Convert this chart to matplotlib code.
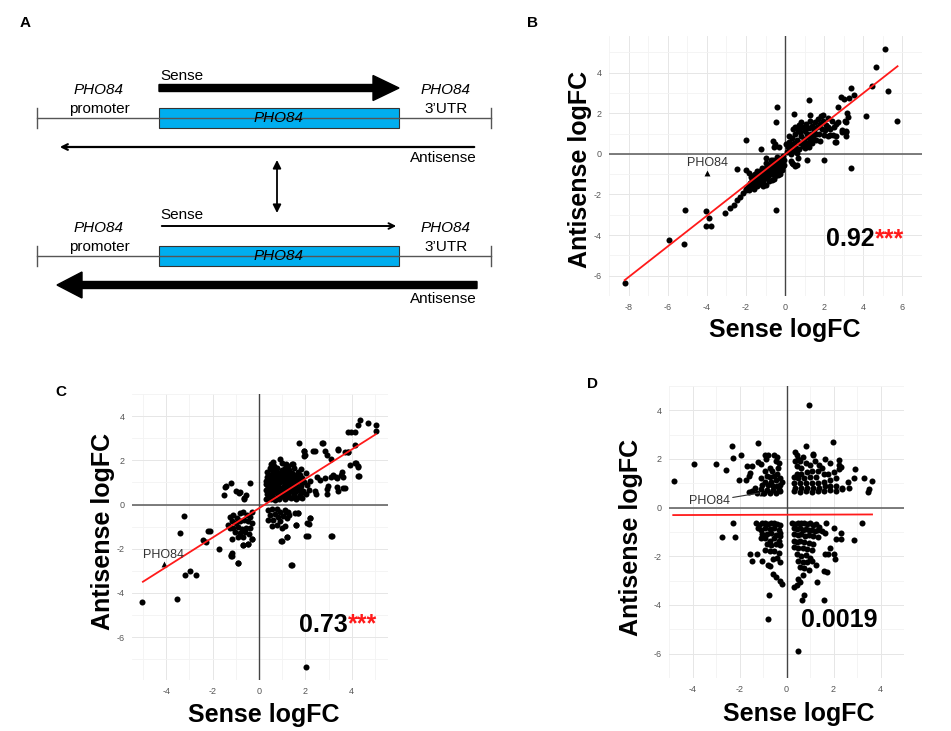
import numpy as np
import matplotlib
matplotlib.use("Agg")
from matplotlib import pyplot as plt
import matplotlib.patches as mpatches

plt.rcParams['font.family'] = ['Liberation Sans', 'DejaVu Sans']
plt.rcParams['axes.unicode_minus'] = False

# ---- panel B : sense vs antisense logFC ----
b_points = [
    (5.09, 5.18), (4.66, 4.28), (4.45, 3.33), (5.25, 3.10), (5.73, 1.63), (4.14, 1.88),
    (3.36, 3.25), (3.53, 2.92), (2.85, 2.78), (3.01, 2.70), (3.26, 2.73), (2.70, 2.32),
    (1.24, 2.65), (3.21, 1.80), (3.04, 1.63), (3.13, 1.06), (2.90, 1.05), (3.13, 0.90),
    (2.55, 0.57), (2.31, 0.95), (2.00, -0.29), (1.10, -0.29), (3.37, -0.69), (0.49, -0.62),
    (0.62, -0.57), (0.29, -0.36), (0.39, -0.52), (0.33, -0.46), (0.65, -0.21), (-0.41, 2.32),
    (-0.46, 1.59), (0.47, 1.98), (-1.98, 0.70), (-1.24, 0.25), (-0.62, 0.64), (-0.51, 0.47),
    (-0.29, 0.36), (-0.59, 0.36), (-2.47, -0.74), (-0.46, -2.79), (-3.08, -2.92), (-5.12, -2.78),
    (-4.03, -2.81), (-3.90, -3.14), (-4.06, -3.55), (-3.81, -3.55), (-5.94, -4.22), (-5.17, -4.44),
    (-8.18, -6.34), (-2.80, -2.66), (-2.63, -2.50), (-2.47, -2.25), (-2.31, -2.12), (-2.14, -1.93),
    (-1.98, -1.76), (-1.82, -1.60), (-1.98, -0.82), (-1.82, -0.95),
    (-2.00, -1.75), (-1.90, -1.60), (-1.85, -1.80), (-1.80, -1.45), (-1.75, -1.65), (-1.70, -1.30),
    (-1.65, -1.50), (-1.60, -1.75), (-1.55, -1.20), (-1.50, -1.40), (-1.45, -1.60), (-1.40, -1.05),
    (-1.35, -1.30), (-1.30, -1.50), (-1.25, -0.95), (-1.20, -1.15), (-1.15, -1.35), (-1.10, -0.80),
    (-1.05, -1.00), (-1.00, -1.20), (-0.95, -0.70), (-0.90, -0.90), (-0.85, -1.10), (-0.80, -0.60),
    (-0.75, -0.80), (-0.70, -1.00), (-0.65, -0.50), (-0.60, -0.70), (-0.55, -0.90), (-0.50, -0.40),
    (-0.45, -0.60), (-0.40, -0.80), (-0.35, -0.30), (-0.30, -0.50), (-0.25, -0.70), (-0.20, -0.20),
    (-0.15, -0.40), (-0.10, -0.60), (-0.10, -0.10), (-0.05, -0.30), (-0.60, -0.30), (-0.90, -0.50),
    (-1.20, -0.70), (-0.30, -0.90), (-0.50, -1.10), (-0.80, -1.35), (-1.30, -0.85), (-1.60, -1.05),
    (-0.20, -0.50), (-0.40, -0.15), (-0.70, -0.30), (-1.00, -0.45), (-0.15, -0.80), (-0.55, -1.25),
    (-1.45, -0.85), (-0.98, -1.52), (-0.95, -0.21), (-0.35, -1.05), (-0.65, -1.30), (-1.15, -1.60),
    (-0.05, -0.55), (-0.25, -1.00), (-1.55, -1.00), (-1.75, -1.15),
    (0.10, 0.10), (0.15, 0.35), (0.20, 0.60), (0.25, 0.20), (0.30, 0.45), (0.35, 0.80),
    (0.40, 0.15), (0.45, 0.55), (0.50, 1.00), (0.55, 0.30), (0.60, 0.70), (0.65, 1.15),
    (0.70, 0.25), (0.75, 0.55), (0.80, 0.90), (0.85, 1.30), (0.90, 0.40), (0.95, 0.75),
    (1.00, 1.10), (1.05, 1.45), (1.10, 0.50), (1.15, 0.85), (1.20, 1.25), (1.25, 1.60),
    (1.30, 0.65), (1.35, 1.00), (1.40, 1.35), (1.45, 0.80), (1.50, 1.15), (1.55, 1.55),
    (1.60, 0.70), (1.65, 1.30), (1.70, 1.70), (1.75, 1.00), (1.80, 1.45), (1.85, 1.85),
    (1.90, 1.20), (1.95, 1.60), (2.00, 0.95), (2.10, 1.40), (2.20, 1.75), (2.30, 1.20),
    (2.40, 1.60), (2.50, 1.30), (0.30, 0.00), (0.60, 0.05), (1.00, 0.30), (0.20, 0.90),
    (0.50, 1.30), (0.80, 1.55), (1.20, 0.35), (1.60, 1.00), (2.20, 0.90), (2.60, 0.90),
    (0.05, 0.50), (0.40, 1.20), (1.30, 1.90), (0.70, 1.40), (1.80, 0.65), (1.00, 0.60),
    (2.20, 1.34), (2.70, 1.58), (3.19, 2.00), (3.10, 1.58), (2.59, 0.60), (3.10, 1.10),
    (2.45, 0.95), (2.90, 1.15), (2.60, 1.45), (1.95, 1.90), (0.75, 1.05), (1.10, 1.00),
    (1.40, 0.55), (0.95, 1.25), (2.05, 1.15), (1.25, 0.90),
]
b_pho84 = (-4.0, -0.93)
b_fit = [0.755, -0.03, -8.2, 5.75]   # slope, intercept, x from, x to

# ---- panel C ----
c_points = [
    (4.34, 3.81), (4.70, 3.69), (4.28, 3.58), (5.04, 3.58), (5.04, 3.33), (3.84, 3.29),
    (3.98, 3.29), (4.12, 3.29), (1.72, 2.79), (2.73, 2.79), (1.94, 2.40), (1.97, 2.23),
    (2.33, 2.40), (2.86, 2.40), (3.12, 2.08), (3.41, 2.47), (3.84, 2.37), (4.12, 2.69),
    (3.91, 1.80), (4.20, 1.90), (4.27, 1.71), (4.27, 1.28), (3.12, 1.25), (3.33, 1.25),
    (3.55, 1.32), (3.62, 0.75), (2.95, 0.46), (3.41, 0.60), (3.12, -1.41), (2.04, -1.41),
    (2.14, -0.86), (2.18, -0.62), (1.39, -2.73), (2.01, -7.34), (1.21, -1.45), (0.96, -1.65),
    (1.58, -0.91), (1.68, -0.40), (1.18, -0.33), (1.29, -0.47),
    (-1.19, -2.34), (-1.22, -2.27), (-0.91, -2.63), (-0.69, -1.84), (-0.47, -1.77), (-0.30, -1.55),
    (-1.70, -2.03), (-2.41, -1.59), (-2.30, -1.70), (-2.13, -1.19), (-2.20, -1.22), (-3.23, -0.50),
    (-3.42, -1.31), (-3.18, -3.18), (-2.99, -2.99), (-2.70, -3.20), (-3.52, -4.27), (-5.03, -4.40),
    (-1.51, 0.43), (-1.44, 0.82), (-1.19, 0.96), (-0.98, 0.60), (-0.88, 0.50), (-0.66, 0.29),
    (-0.55, 0.42), (-0.37, 0.99), (-1.47, 0.79), (-0.82, 0.56), (-0.65, 0.24),
    # upper right spread
    (0.59, 1.94), (0.91, 2.08), (1.16, 1.82), (1.48, 1.82), (1.94, 2.43), (1.94, 2.21),
    (2.41, 2.43), (2.74, 2.80), (2.92, 2.26), (3.42, 2.51), (3.71, 2.39), (3.85, 2.39),
    (2.49, 1.25), (2.63, 1.11), (2.84, 1.18), (2.99, 0.82), (3.20, 1.32), (3.35, 1.18),
    (3.56, 1.47), (3.64, 1.25), (3.71, 0.75), (3.35, 0.79), (2.92, 0.70), (2.41, 0.60),
    (2.46, 0.46), (4.14, 1.90), (4.28, 1.75), (4.31, 1.29),
    # upper right core
    (0.32, 0.24), (0.52, 0.27), (0.71, 0.22), (0.88, 0.26), (1.12, 0.23), (1.36, 0.28), (1.58, 0.25), (1.86, 0.30),
    (0.36, 0.46), (0.58, 0.43), (0.81, 0.47), (1.02, 0.44), (1.24, 0.48), (1.49, 0.45), (1.76, 0.42), (2.02, 0.47),
    (0.30, 0.66), (0.46, 0.63), (0.69, 0.67), (0.94, 0.64), (1.16, 0.68), (1.41, 0.63), (1.66, 0.66), (1.91, 0.62), (2.14, 0.67),
    (0.38, 0.86), (0.56, 0.83), (0.79, 0.87), (1.06, 0.84), (1.29, 0.88), (1.54, 0.85), (1.81, 0.82), (2.06, 0.87),
    (0.32, 1.05), (0.51, 1.08), (0.76, 1.03), (0.99, 1.06), (1.21, 1.04), (1.46, 1.08), (1.71, 1.05), (1.96, 1.02), (2.21, 1.07),
    (0.41, 1.26), (0.64, 1.23), (0.91, 1.27), (1.11, 1.24), (1.34, 1.28), (1.61, 1.25), (1.86, 1.22),
    (0.35, 1.45), (0.61, 1.48), (0.86, 1.44), (1.14, 1.47), (1.41, 1.43), (1.69, 1.46), (2.01, 1.42),
    (0.46, 1.66), (0.79, 1.63), (1.11, 1.67), (1.49, 1.64), (1.79, 1.62),
    (0.52, 1.84), (1.01, 1.87), (1.44, 1.83),
    (0.42, 0.35), (0.64, 0.55), (0.90, 0.36), (1.30, 0.57), (1.60, 0.93), (0.48, 0.95),
    (0.70, 1.16), (1.05, 1.37), (1.38, 1.15), (1.85, 1.05), (0.55, 1.55), (0.92, 0.75),
    (0.62, 0.35), (1.22, 0.36), (1.47, 0.34), (1.72, 0.33), (0.47, 0.55), (0.84, 0.57),
    (1.08, 0.55), (1.55, 0.56), (1.83, 0.53), (0.37, 0.76), (0.59, 0.74), (0.81, 0.76),
    (1.05, 0.75), (1.28, 0.77), (1.52, 0.74), (1.76, 0.75), (0.43, 0.96), (0.68, 0.95),
    (0.88, 0.97), (1.13, 0.94), (1.37, 0.96), (1.62, 1.14), (0.38, 1.16), (0.58, 1.15),
    (0.82, 1.17), (1.02, 1.16), (1.26, 1.16), (1.51, 1.16), (0.50, 1.35), (0.76, 1.36),
    (1.24, 1.37), (1.50, 1.35), (1.75, 1.33), (0.72, 1.56), (0.99, 1.55), (1.28, 1.55),
    (0.66, 1.76), (1.24, 1.74), (0.34, 1.26), (0.31, 0.95),
    # lower right cluster
    (0.40, -0.26), (0.55, -0.19), (0.76, -0.22), (0.91, -0.33), (1.12, -0.26), (1.26, -0.33),
    (0.47, -0.47), (0.69, -0.45), (0.83, -0.55), (1.05, -0.50), (0.40, -0.68), (0.62, -0.68),
    (0.91, -0.75), (1.19, -0.62), (0.55, -0.98), (0.76, -0.91), (0.98, -1.05), (1.12, -0.98),
    (1.55, -0.40), (1.69, -0.40), (1.59, -0.91), (2.05, -0.83), (2.20, -0.59), (2.13, -1.41),
    (1.22, -1.45), (0.98, -1.67), (1.41, -2.74), (3.13, -1.41),
    # lower left cluster
    (-1.25, -0.55), (-1.11, -0.47), (-0.96, -0.62), (-0.82, -0.40), (-0.68, -0.33), (-0.53, -0.47),
    (-0.39, -0.55), (-1.18, -0.76), (-0.99, -0.83), (-0.82, -0.73), (-0.65, -0.69), (-0.46, -0.76),
    (-0.32, -0.83), (-1.11, -1.05), (-0.89, -1.02), (-0.75, -1.12), (-0.56, -1.05), (-0.39, -1.05),
    (-1.03, -1.26), (-0.82, -1.31), (-0.60, -1.26), (-0.42, -1.34), (-1.18, -1.55), (-0.89, -1.48),
    (-0.68, -1.48), (-0.32, -1.55), (-1.32, -0.91), (-0.32, -0.33), (-0.46, -1.77), (-0.68, -1.84),
    (-1.25, -1.05), (-1.14, -2.20), (-1.18, -2.31), (-0.89, -2.63),
]
c_pho84 = (-4.11, -2.70)
c_fit = [0.665, -0.17, -5.0, 5.04]

# ---- panel D ----
d_points = [
    (0.97, 4.21), (1.97, 2.70), (0.82, 2.53), (-1.23, 2.66), (-2.31, 2.53), (-2.27, 2.05),
    (-1.93, 2.18), (-3.93, 1.81), (-2.98, 1.81), (-4.80, 1.11), (-2.57, 1.56), (-2.03, 1.13),
    (2.92, 1.58), (2.86, 1.20), (3.28, 1.20), (3.65, 1.11), (3.50, 0.78), (3.47, 0.66),
    (2.22, 1.96), (2.31, 1.68), (1.14, 2.15),
    # upper left cluster
    (-1.67, 1.70), (-1.48, 1.70), (-1.55, 1.41), (-1.61, 1.32), (-1.71, 1.13), (-1.23, 1.87),
    (-1.10, 1.79), (-0.91, 2.15), (-0.78, 2.15), (-0.87, 2.00), (-0.52, 2.15), (-0.40, 2.09),
    (-0.46, 1.90), (-0.33, 1.83), (-0.72, 1.64), (-0.91, 1.51), (-0.84, 1.32), (-0.61, 1.51),
    (-0.52, 1.32), (-0.40, 1.39), (-0.46, 1.13), (-0.65, 1.07), (-0.91, 1.07), (-1.03, 0.94),
    (-0.78, 0.94), (-0.59, 0.88), (-0.40, 0.88), (-0.27, 0.94), (-0.27, 1.20), (-0.33, 0.75),
    (-0.59, 0.73), (-0.84, 0.73), (-1.10, 0.75), (-1.35, 0.81), (-1.48, 0.69), (-1.61, 0.65),
    (-1.25, 0.62), (-0.97, 0.62), (-0.72, 0.62), (-0.46, 0.62), (-0.27, 0.69), (-0.20, 1.07),
    (-0.36, 1.64), (-0.72, 1.26), (-1.10, 1.20),
    # upper right cluster
    (0.37, 2.28), (0.43, 2.15), (0.50, 2.02), (0.56, 1.90), (0.69, 2.09), (0.37, 1.90),
    (0.43, 1.70), (0.63, 1.64), (0.82, 1.83), (1.01, 1.77), (1.20, 1.90), (1.39, 1.77),
    (1.52, 1.64), (1.33, 1.51), (1.07, 1.51), (0.88, 1.45), (0.63, 1.39), (0.43, 1.39),
    (0.31, 1.26), (0.50, 1.20), (0.75, 1.20), (1.01, 1.26), (1.26, 1.26), (1.58, 1.39),
    (1.78, 1.39), (2.03, 1.45), (2.09, 1.20), (2.22, 1.77), (2.22, 1.58), (1.84, 1.13),
    (1.58, 1.07), (1.33, 1.01), (1.07, 1.01), (0.82, 1.01), (0.56, 1.01), (0.31, 1.01),
    (0.37, 0.81), (0.63, 0.81), (0.88, 0.81), (1.14, 0.81), (1.39, 0.81), (1.65, 0.88),
    (1.84, 0.88), (2.09, 0.88), (2.35, 0.81), (0.31, 0.69), (0.56, 0.65), (0.82, 0.69),
    (1.07, 0.65), (1.33, 0.69), (1.58, 0.69), (1.84, 0.73), (2.09, 0.69), (2.35, 0.75),
    (2.61, 1.07), (2.67, 0.81), (1.65, 2.02), (1.84, 1.83), (1.14, 2.21),
    # lower outliers
    (-2.27, -0.65), (-2.76, -1.22), (-2.18, -1.22), (3.22, -0.62), (2.86, -1.31), (1.69, -0.61),
    (2.03, -0.84), (2.32, -1.03), (2.32, -1.28), (-1.55, -1.90), (-1.26, -1.90), (-1.48, -2.18),
    (-1.03, -2.20), (-0.78, -2.37), (-0.72, -2.40), (-0.56, -2.72), (-0.46, -2.86), (-0.27, -3.00),
    (-0.18, -3.13), (-0.74, -3.60), (-0.80, -4.59), (0.31, -3.26), (0.43, -3.17), (0.56, -3.07),
    (0.65, -3.80), (0.75, -3.60), (1.58, -3.79), (1.30, -3.07), (1.58, -2.62), (1.71, -2.66),
    (1.65, -1.92), (1.78, -1.92), (2.03, -1.90), (2.07, -2.11), (1.24, -2.37), (0.50, -5.89),
    # lower left cluster
    (-1.29, -0.62), (-1.16, -0.71), (-1.03, -0.65), (-0.91, -0.62), (-0.78, -0.67), (-0.65, -0.65),
    (-0.52, -0.62), (-0.40, -0.67), (-0.27, -0.71), (-1.23, -0.84), (-1.10, -0.90), (-0.91, -0.84),
    (-0.72, -0.88), (-0.52, -0.84), (-0.33, -0.90), (-0.27, -1.03), (-1.03, -1.09), (-0.84, -1.09),
    (-0.65, -1.06), (-0.46, -1.13), (-0.27, -1.16), (-1.10, -1.26), (-0.91, -1.26), (-0.72, -1.35),
    (-0.52, -1.26), (-0.33, -1.35), (-0.84, -1.51), (-0.65, -1.54), (-0.46, -1.51), (-0.27, -1.54),
    (-0.91, -1.73), (-0.72, -1.79), (-0.52, -1.77), (-0.33, -1.86), (-0.40, -2.05), (-0.59, -2.11),
    (-0.27, -2.24),
    # lower right cluster
    (0.24, -0.62), (0.37, -0.67), (0.50, -0.62), (0.63, -0.65), (0.75, -0.62), (0.88, -0.67),
    (1.01, -0.65), (1.14, -0.71), (1.26, -0.67), (1.39, -0.78), (0.31, -0.84), (0.43, -0.88),
    (0.56, -0.84), (0.69, -0.90), (0.82, -0.88), (0.95, -0.93), (1.07, -0.90), (1.20, -0.97),
    (1.33, -0.93), (1.52, -0.97), (1.65, -1.03), (0.31, -1.09), (0.50, -1.13), (0.63, -1.09),
    (0.79, -1.16), (0.95, -1.13), (1.14, -1.18), (1.33, -1.22), (0.31, -1.35), (0.43, -1.41),
    (0.59, -1.35), (0.75, -1.41), (0.95, -1.44), (1.14, -1.48), (0.31, -1.60), (0.50, -1.64),
    (0.69, -1.67), (0.88, -1.69), (1.07, -1.73), (0.43, -1.92), (0.63, -1.98), (0.82, -1.95),
    (1.01, -2.05), (0.50, -2.18), (0.69, -2.24), (0.88, -2.24), (1.07, -2.18), (0.56, -2.43),
    (0.75, -2.49), (0.95, -2.56), (0.69, -2.75), (0.50, -2.94), (2.09, -1.29), (1.84, -1.67),
]
d_pho84 = (-1.05, 0.62)
d_fit = [0.003, -0.29, -4.82, 3.64]

W, H = 951, 731
fig = plt.figure(figsize=(W / 100, H / 100), dpi=100)


def box(l, r, t, b):
    return [l / W, 1 - b / H, (r - l) / W, (b - t) / H]


def scatter_panel(rect, pts, pho, fit, xlim, ylim, xt, yt, val, stars, lab_xy, ylab_xy):
    ax = fig.add_axes(rect)
    ax.set_xlim(*xlim)
    ax.set_ylim(*ylim)
    ax.set_xticks(xt)
    ax.set_yticks(yt)
    ax.set_xticks(np.arange(xt[0] - 1, xt[-1] + 2, 2), minor=True)
    ax.set_yticks(np.arange(yt[0] - 1, yt[-1] + 2, 2), minor=True)
    ax.grid(which='major', color='#e6e6e6', lw=0.7)
    ax.grid(which='minor', color='#f3f3f3', lw=0.6)
    ax.set_axisbelow(True)
    for s in ax.spines.values():
        s.set_visible(False)
    ax.tick_params(which='both', length=0, labelsize=6.5, labelcolor='#555555', pad=5)
    ax.axhline(0, color='#666666', lw=1.2, zorder=1)
    ax.axvline(0, color='#444444', lw=1.0, zorder=1)
    xs, ys = np.array(pts).T
    ax.scatter(xs, ys, s=19, color='black', lw=0, zorder=2)
    ax.scatter([pho[0]], [pho[1]], s=18, marker='^', color='black', lw=0, zorder=2)
    k, c0, x0, x1 = fit
    ax.plot([x0, x1], [k * x0 + c0, k * x1 + c0], color='#ff1a1a', lw=1.3, zorder=3)
    ax.text(val[1], val[2], val[0], ha='right', va='baseline', fontsize=18,
            fontweight='bold', color='black', zorder=4)
    if stars:
        ax.text(val[1], val[2], '***', ha='left', va='baseline', fontsize=18,
                fontweight='bold', color='#ff1a1a', zorder=4)
    ax.set_xlabel('Sense logFC', fontsize=18, fontweight='bold')
    ax.set_ylabel('Antisense logFC', fontsize=18, fontweight='bold')
    ax.xaxis.set_label_coords(*lab_xy)
    ax.yaxis.set_label_coords(*ylab_xy)
    return ax


axB = scatter_panel(box(609, 922, 36, 296), b_points, b_pho84, b_fit,
                    (-8.9, 6.5), (-6.96, 5.8), [-8, -6, -4, -2, 0, 2, 4, 6], [-6, -4, -2, 0, 2, 4],
                    ('0.92', 4.57, -4.56), True, (0.562, -0.085), (-0.054, 0.488))
axB.text(-3.98, -0.44, 'PHO84', fontsize=9, color='#333333', ha='center', va='center')

axC = scatter_panel(box(132, 388, 394, 680), c_points, c_pho84, c_fit,
                    (-5.47, 5.56), (-7.94, 4.38), [-4, -2, 0, 2, 4], [-6, -4, -2, 0, 2, 4],
                    ('0.73', 3.84, -5.75), True, (0.516, -0.080), (-0.066, 0.52))
axC.text(-4.1, -2.3, 'PHO84', fontsize=9, color='#333333', ha='center', va='center')

axD = scatter_panel(box(669, 904, 386, 678), d_points, d_pho84, d_fit,
                    (-4.98, 4.03), (-6.42, 4.72), [-4, -2, 0, 2, 4], [-6, -4, -2, 0, 2, 4],
                    ('0.0019', 3.88, -4.91), False, (0.553, -0.082), (-0.110, 0.48))
axD.annotate('PHO84', xy=d_pho84, xytext=(-3.28, 0.26), fontsize=9, color='#333333',
             ha='center', va='center',
             arrowprops=dict(arrowstyle='-', color='#333333', lw=0.8, shrinkA=0, shrinkB=2))

# ---- panel A : schematic, drawn in pixel space ----
ov = fig.add_axes([0, 0, 1, 1], zorder=-1)
ov.set_xlim(0, W)
ov.set_ylim(H, 0)
ov.axis('off')

for lab, (x, y) in zip('ABCD', [(25, 23), (533, 23), (61, 392), (592, 384)]):
    fig.text(x / W, 1 - y / H, lab, fontsize=11, fontweight='bold', ha='center', va='center')

gene_blue = '#00AEEF'
for yl, thick_sense in [(118, True), (256, False)]:
    ov.plot([37, 491], [yl, yl], color='#555555', lw=1.0)
    ov.plot([37, 37], [yl - 10, yl + 10], color='#555555', lw=1.0)
    ov.plot([491, 491], [yl - 10, yl + 10], color='#555555', lw=1.0)
    ov.add_patch(mpatches.Rectangle((159, yl - 10), 240, 20, facecolor=gene_blue,
                                    edgecolor='#333333', lw=0.8))
    ov.text(279, yl, 'PHO84', style='italic', fontsize=11, ha='center', va='center')
    ov.text(99, yl - 28, 'PHO84', style='italic', fontsize=11, ha='center', va='center')
    ov.text(99, yl - 9, 'promoter', fontsize=11, ha='center', va='center')
    ov.text(446, yl - 28, 'PHO84', style='italic', fontsize=11, ha='center', va='center')
    ov.text(446, yl - 9, '3’UTR', fontsize=11, ha='center', va='center')
    if thick_sense:
        ov.add_patch(mpatches.FancyArrow(159, yl - 30, 240, 0, width=7, head_width=25,
                                         head_length=26, length_includes_head=True, color='black'))
        ov.annotate('', xy=(57, yl + 29), xytext=(477, yl + 29),
                    arrowprops=dict(arrowstyle='->', lw=1.6, color='black', mutation_scale=10))
        ov.text(160, yl - 42, 'Sense', fontsize=11, ha='left', va='center')
        ov.text(477, yl + 40, 'Antisense', fontsize=11, ha='right', va='center')
    else:
        ov.annotate('', xy=(399, yl - 30), xytext=(159, yl - 30),
                    arrowprops=dict(arrowstyle='->', lw=1.4, color='black', mutation_scale=10))
        ov.add_patch(mpatches.FancyArrow(477, yl + 29, -420, 0, width=7, head_width=26,
                                         head_length=25, length_includes_head=True, color='black'))
        ov.text(160, yl - 41, 'Sense', fontsize=11, ha='left', va='center')
        ov.text(477, yl + 43, 'Antisense', fontsize=11, ha='right', va='center')

ov.annotate('', xy=(277, 160), xytext=(277, 213),
            arrowprops=dict(arrowstyle='<|-|>', lw=1.3, color='black', mutation_scale=12,
                            shrinkA=0, shrinkB=0))

fig.savefig('out.png', dpi=100)
